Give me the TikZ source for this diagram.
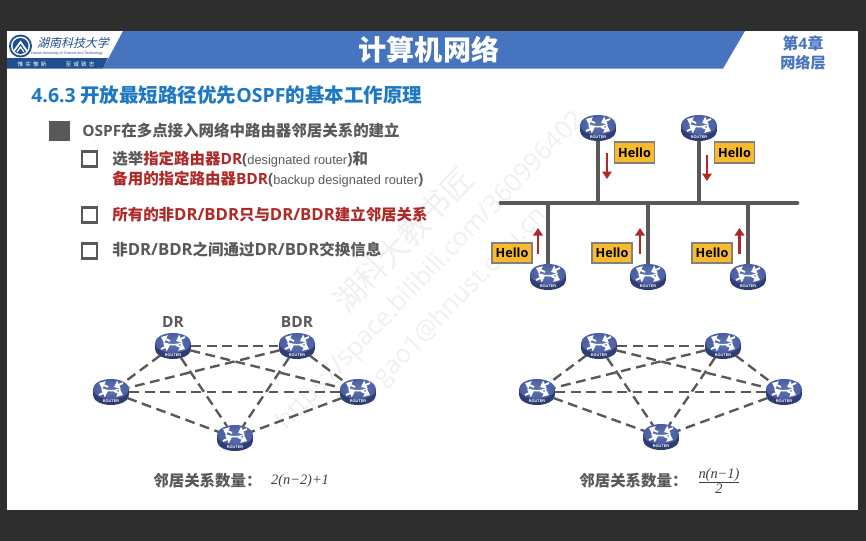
\documentclass[tikz,border=0pt]{standalone}
\usepackage{fontspec}
\usepackage{xcolor}
\usetikzlibrary{arrows.meta,calc,positioning,shapes.geometric}
\setmainfont{Noto Sans CJK SC}
\newfontfamily\latfont{Open Sans}
\newfontfamily\armfont{Liberation Sans}
\newfontfamily\formfont{Liberation Serif}
\newfontfamily\logofont{Noto Sans CJK SC}[FakeSlant=0.25]
\newcommand{\os}[1]{{\latfont #1}}
\newcommand{\osb}[1]{{\latfont\fontsize{9.5}{9.5}\selectfont #1}}
\newcommand{\fsz}[1]{\fontsize{#1}{#1}\selectfont}
\definecolor{darkbg}{HTML}{2E2E2E}
\definecolor{barblue}{HTML}{4674BE}
\definecolor{stripblue}{HTML}{1F4F8F}
\definecolor{headblue}{HTML}{1F78C2}
\definecolor{txtgray}{HTML}{595959}
\definecolor{txtred}{HTML}{AE2A28}
\definecolor{hellofill}{HTML}{F9BB2B}
\definecolor{routertop}{HTML}{5F74B4}
\definecolor{routeredge}{HTML}{4A5FA3}
\definecolor{routerside}{HTML}{2F3E72}
\tikzset{
  txt/.style={anchor=west,inner sep=0pt,font=\bfseries\fsz{8.8},text=txtgray},
  mark box/.style={draw=txtgray,line width=1.2pt,fill=white,minimum size=0.3cm,inner sep=0pt},
  hello/.style={draw=gray,line width=0.9pt,fill=hellofill,minimum width=0.8cm,minimum height=0.41cm,inner sep=0pt,font=\latfont\bfseries\fsz{7.2},text=black},
  helloarr/.style={-{Triangle[length=1.5mm,width=1.9mm]},line width=1.2pt,draw=txtred},
  cable/.style={draw=txtgray,line width=2.7pt},
  nbr/.style={draw=txtgray,line width=1.35pt,dash pattern=on 5.6pt off 3.2pt},
  rt/.style={ellipse,minimum width=0.72cm,minimum height=0.52cm,inner sep=0pt},
  rtarr/.style={white,line width=1.05pt,-{Triangle[length=1.1mm,width=1.7mm]}},
  wmark/.style={rotate=46,text=black!6,inner sep=0pt},
  router/.pic={
    \fill[routerside] (0,3) circle[x radius=18,y radius=10];
    \fill[routerside] (-18,-3) rectangle (18,3);
    \shade[inner color=routertop,outer color=routeredge] (0,-3) circle[x radius=18,y radius=10];
    \draw[rtarr] (-3,-5) -- (-12,-9);
    \draw[rtarr] (3,-1) -- (12,3);
    \draw[rtarr] (12,-9) -- (3,-5);
    \draw[rtarr] (-12,3) -- (-3,-1);
    \draw[white,line width=0.8pt] (-9,-3) to[out=-20,in=200] (9,-3);
    \node[white,inner sep=0pt,font=\armfont\bfseries\fsz{2.2}] at (0,9.5) {ROUTER};
  }
}
% places a named router and draws it
\newcommand{\router}[2]{\node[rt] (#1) at (#2) {}; \pic at (#1) {router};}

\begin{document}
\begin{tikzpicture}[x=0.02cm,y=-0.02cm,>=Stealth]
\useasboundingbox (0,0) rectangle (866,541);
\fill[darkbg] (0,0) rectangle (866,541);
\fill[white] (7,31) rectangle (858,510);

% header
\fill[barblue] (123,31) -- (745,31) -- (723,68.5) -- (103,68.5) -- cycle;
\fill[stripblue] (7,58) -- (108,58) -- (103,68.5) -- (7,68.5) -- cycle;
\fill[stripblue] (20.5,46) circle (11.5);
\fill[white] (20.5,46) circle (9.5);
\fill[stripblue] (20.5,46) circle (8);
\draw[white,line width=1pt] (14,51) -- (20.5,42) -- (27,51);
\draw[white,line width=0.7pt] (17,52) -- (20.5,47) -- (24,52);
\node[inner sep=0pt,font=\logofont\fsz{6.8},text=stripblue] (logotxt) at (73,43) {湖南科技大学};
\node[inner sep=0pt,font=\armfont\fsz{2.05},text=stripblue] (logoen) at (67,53.5) {Hunan University of Science and Technology};
\node[inner sep=0pt,font=\fsz{3.2},text=white] (mottoa) at (32,64) {惟\kern1.2pt 实\kern1.2pt 惟\kern1.2pt 新};
\node[inner sep=0pt,font=\fsz{3.2},text=white] (mottob) at (80,64) {至\kern1.2pt 诚\kern1.2pt 致\kern1.2pt 志};
\node[inner sep=0pt,font=\bfseries\fsz{16},text=white] (title) at (429,50) {计算机网络};
\node[inner sep=0pt,font=\bfseries\fsz{9},text=barblue] (chap) at (803,43) {第\os{4}章};
\node[inner sep=0pt,font=\bfseries\fsz{8.6},text=barblue] (layer) at (803,62.5) {网络层};

% watermark
\node[wmark,font=\fsz{17.5}] (wma) at (403,240) {湖科大教书匠};
\node[wmark,font=\latfont\fsz{14.5}] (wmb) at (431,271) {https://space.bilibili.com/360996402};
\node[wmark,font=\latfont\fsz{14.5}] (wmc) at (461,297) {gao1@hnust.edu.cn};

% text on the left
\node[txt,font=\bfseries\fsz{11.1},text=headblue] (head) at (31,95.5) {\os{4.6.3} 开放最短路径优先\os{OSPF}的基本工作原理};
\fill[txtgray] (49,121) rectangle (70,141);
\node[txt] (ta) at (82,131) {\os{OSPF}在多点接入网络中路由器邻居关系的建立};
\node[mark box] (ba) at (89.5,159) {};
\node[mark box] (bb) at (89.5,215) {};
\node[mark box] (bc) at (89.5,251) {};
\node[txt] (tb) at (112,159) {选举\textcolor{txtred}{指定路由器\os{DR}}\os{(}{\armfont\mdseries\fsz{7.3}designated router}\os{)}和};
\node[txt] (tc) at (112,179) {\textcolor{txtred}{备用的指定路由器\os{BDR}}\os{(}{\armfont\mdseries\fsz{7.3}backup designated router}\os{)}};
\node[txt,text=txtred] (td) at (112,215) {所有的非\osb{DR/BDR}只与\osb{DR/BDR}建立邻居关系};
\node[txt] (te) at (112,250) {非\osb{DR/BDR}之间通过\osb{DR/BDR}交换信息};

% bus with hello messages
\router{ra}{598,128}
\router{rb}{699,128}
\router{rc}{548,277}
\router{rd}{648,277}
\router{re}{748,277}
\coordinate (busl) at (501,203);
\coordinate (busr) at (797,203);
\draw[cable,line cap=round] (busl) -- (busr);
\foreach \r in {ra,rb,rc,rd,re}
  \draw[cable] (\r) -- (\r |- busl);
\node[hello] (ha) at (634.5,152.5) {Hello};
\node[hello] (hb) at (734.5,152.5) {Hello};
\node[hello] (hc) at (512,253) {Hello};
\node[hello] (hd) at (612,253) {Hello};
\node[hello] (he) at (712,253) {Hello};
\foreach \n/\x/\ya/\yb in {a/607/153/179,b/707/155/181,c/538/254/228,d/640/254/228,e/739.5/254/228}{
  \coordinate (s\n) at (\x,\ya);
  \coordinate (e\n) at (\x,\yb);
  \draw[helloarr] (s\n) -- (e\n);
}

% DR and BDR
\router{dr}{173,346}
\router{bdr}{297,346}
\router{la}{111,392}
\router{lb}{358,392}
\router{lc}{235,438}
\foreach \a/\b in {dr/bdr,dr/la,dr/lb,dr/lc,bdr/la,bdr/lb,bdr/lc,la/lb,la/lc,lb/lc}
  \draw[nbr] (\a) -- (\b);
\node[inner sep=0pt,font=\latfont\bfseries\fsz{8.8},text=txtgray,above=2.6pt of dr] (drl) {DR};
\node[inner sep=0pt,font=\latfont\bfseries\fsz{8.8},text=txtgray,above=2.6pt of bdr] (bdrl) {BDR};
\node[txt] (cnta) at (153,481) {邻居关系数量：};
\node[inner sep=0pt,font=\formfont\itshape\fsz{8.2},text=black!75] (fa) at (300,481) {2(n−2)+1};

% without DR and BDR
\router{pa}{599,346}
\router{pb}{723,346}
\router{pc}{537,392}
\router{pd}{784,392}
\router{pe}{661,437}
\foreach \a/\b in {pa/pb,pa/pc,pa/pd,pa/pe,pb/pc,pb/pd,pb/pe,pc/pd,pc/pe,pd/pe}
  \draw[nbr] (\a) -- (\b);
\node[txt] (cntb) at (579,481) {邻居关系数量：};
\node[inner sep=0pt,text=black!75] (fb) at (719,481) {$\frac{\hbox{\formfont\itshape\fsz{8.2}n(n−1)}}{\hbox{\formfont\itshape\fsz{8.2}2}}$};
\end{tikzpicture}
\end{document}
